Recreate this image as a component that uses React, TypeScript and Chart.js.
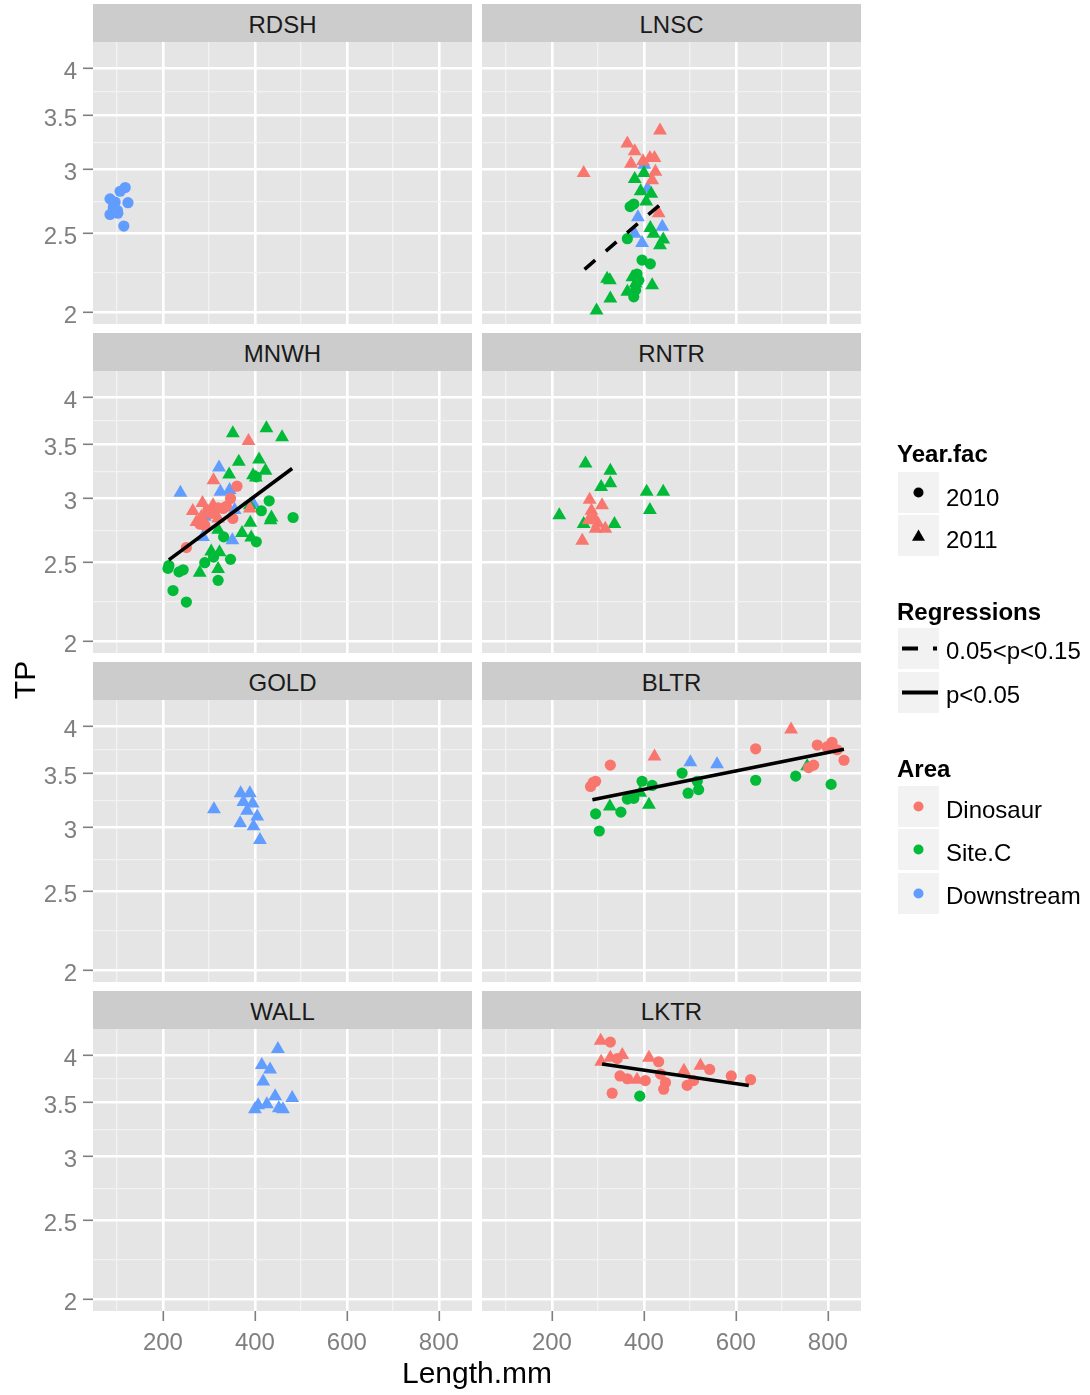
import React, { useEffect, useRef } from 'react';
import { Chart, registerables } from 'chart.js';

Chart.register(...registerables);

const FONT = '"Liberation Sans", Arial, Helvetica, sans-serif';

// ---------- axes ----------
const X_LIMITS = [48, 872];
const X_MAJOR = [200, 400, 600, 800];
const X_MINOR = [100, 300, 500, 700];
const Y_LIMITS = [1.935, 4.307];
const Y_MAJOR = [2, 2.5, 3, 3.5, 4];
const Y_MINOR = [2.236, 2.739, 3.24, 3.742];

// ---------- legend / categories ----------
const AREAS = ['Dinosaur', 'Site.C', 'Downstream'];
const AREA_COLORS = ['#F8766D', '#00BA38', '#619CFF'];
const YEARS = ['2010', '2011'];
const REG_LABELS = ['0.05<p<0.15', 'p<0.05'];
const PANEL_NAMES = ['RDSH', 'LNSC', 'MNWH', 'RNTR', 'GOLD', 'BLTR', 'WALL', 'LKTR'];

// ---------- data ----------
const RDSH_DS_2010_LEN = [118, 107, 85, 96, 124, 92, 102, 85, 115, 93, 101];
const RDSH_DS_2010_TP = [2.85, 2.82, 2.76, 2.735, 2.73, 2.69, 2.65, 2.64, 2.555, 2.71, 2.67];

const LNSC_DIN_2011_LEN = [435, 364, 380, 269, 372, 398, 413, 423, 418, 425, 432];
const LNSC_DIN_2011_TP = [3.35, 3.23, 3.16, 2.97, 3.05, 3.07, 3.1, 3.1, 2.91, 2.98, 2.65];
const LNSC_DS_2011_LEN = [401, 408, 387, 440, 380, 396];
const LNSC_DS_2011_TP = [3.04, 2.84, 2.62, 2.55, 2.5, 2.435];
const LNSC_SC_2011_LEN = [400, 380, 393, 416, 405, 414, 421, 442, 435, 320, 326, 375, 382, 418, 364, 327, 297];
const LNSC_SC_2011_TP = [2.97, 2.92, 2.82, 2.8, 2.74, 2.54, 2.5, 2.46, 2.42, 2.2, 2.19, 2.21, 2.17, 2.16, 2.12, 2.08, 2.01];
const LNSC_SC_2010_LEN = [370, 378, 364, 396, 414, 385, 389, 382, 378];
const LNSC_SC_2010_TP = [2.7, 2.72, 2.465, 2.32, 2.295, 2.23, 2.19, 2.13, 2.09];
const LNSC_REG_LEN = [271, 440];
const LNSC_REG_TP = [2.26, 2.73];

const MNWH_SC_2011_LEN = [352, 425, 459, 365, 409, 344, 396, 423, 402, 389, 436, 434, 390, 372, 392, 320, 305, 323, 280, 320];
const MNWH_SC_2011_TP = [3.61, 3.66, 3.57, 3.33, 3.35, 3.21, 3.205, 3.245, 3.184, 2.943, 2.842, 2.82, 2.8, 2.72, 2.686, 2.746, 2.58, 2.576, 2.43, 2.456];
const MNWH_DS_2011_LEN = [238, 322, 325, 345, 356, 396, 291, 287, 351];
const MNWH_DS_2011_TP = [3.05, 3.276, 3.058, 3.072, 2.903, 2.958, 2.848, 2.69, 2.665];
const MNWH_DIN_2011_LEN = [386, 310, 286, 265, 309, 284, 273, 320, 389];
const MNWH_DIN_2011_TP = [3.53, 3.16, 2.962, 2.895, 2.943, 2.848, 2.806, 2.834, 2.916];
const MNWH_DIN_2010_LEN = [361, 347, 320, 331, 298, 305, 280, 291, 352, 251, 338];
const MNWH_DIN_2010_TP = [3.106, 3.0, 2.921, 2.916, 2.903, 2.875, 2.79, 2.781, 2.834, 2.61, 2.934];
const MNWH_SC_2010_LEN = [403, 431, 414, 483, 332, 403, 347, 291, 310, 244, 235, 213, 211, 320, 222, 251];
const MNWH_SC_2010_TP = [3.19, 2.98, 2.897, 2.842, 2.69, 2.653, 2.524, 2.5, 2.54, 2.45, 2.436, 2.48, 2.46, 2.378, 2.31, 2.236];
const MNWH_REG_LEN = [213, 481];
const MNWH_REG_TP = [2.52, 3.266];

const RNTR_SC_2011_LEN = [273, 327, 327, 307, 406, 442, 413, 216, 269, 336];
const RNTR_SC_2011_TP = [3.313, 3.245, 3.133, 3.1, 3.058, 3.058, 2.903, 2.861, 2.79, 2.79];
const RNTR_DIN_2011_LEN = [282, 309, 286, 291, 280, 300, 295, 316, 266];
const RNTR_DIN_2011_TP = [2.99, 2.943, 2.897, 2.842, 2.82, 2.795, 2.753, 2.753, 2.66];

const GOLD_DS_2011_LEN = [311, 369, 389, 375, 395, 383, 405, 368, 397, 411];
const GOLD_DS_2011_TP = [3.16, 3.306, 3.306, 3.225, 3.212, 3.145, 3.095, 3.037, 3.01, 2.895];

const BLTR_DIN_2010_LEN = [290, 284, 295, 327, 643, 777, 809, 798, 820, 835, 758, 769];
const BLTR_DIN_2010_TP = [3.41, 3.37, 3.42, 3.58, 3.75, 3.79, 3.82, 3.77, 3.74, 3.63, 3.555, 3.58];
const BLTR_DIN_2011_LEN = [423, 720];
const BLTR_DIN_2011_TP = [3.67, 3.96];
const BLTR_DS_2011_LEN = [501, 559];
const BLTR_DS_2011_TP = [3.61, 3.59];
const BLTR_SC_2011_LEN = [326, 411, 755, 392];
const BLTR_SC_2011_TP = [3.184, 3.2, 3.57, 3.31];
const BLTR_SC_2010_LEN = [295, 303, 350, 364, 378, 396, 418, 483, 496, 516, 519, 643, 730, 807];
const BLTR_SC_2010_TP = [3.118, 2.97, 3.133, 3.252, 3.258, 3.42, 3.38, 3.5, 3.306, 3.42, 3.34, 3.43, 3.47, 3.39];
const BLTR_REG_LEN = [288, 835];
const BLTR_REG_TP = [3.245, 3.745];

const WALL_DS_2011_LEN = [450, 415, 433, 418, 444, 407, 426, 452, 481, 461, 400];
const WALL_DS_2011_TP = [4.07, 3.89, 3.84, 3.71, 3.56, 3.47, 3.48, 3.44, 3.54, 3.43, 3.43];

const LKTR_DIN_2011_LEN = [306, 307, 327, 353, 411, 487, 523, 385];
const LKTR_DIN_2011_TP = [4.166, 3.925, 3.97, 4.0, 3.97, 3.825, 3.88, 3.73];
const LKTR_DIN_2010_LEN = [327, 342, 348, 364, 432, 403, 436, 447, 443, 494, 508, 543, 590, 632, 331];
const LKTR_DIN_2010_TP = [4.15, 3.96, 3.77, 3.74, 3.925, 3.72, 3.79, 3.7, 3.63, 3.67, 3.72, 3.84, 3.77, 3.73, 3.59];
const LKTR_SC_2010_LEN = [391];
const LKTR_SC_2010_TP = [3.56];
const LKTR_REG_LEN = [309, 628];
const LKTR_REG_TP = [3.9, 3.67];

type Series = { panel: string; area: number; year: number; len: number[]; tp: number[] };
type Reg = { panel: string; kind: number; len: number[]; tp: number[] };

const SERIES: Series[] = [
  { panel: 'RDSH', area: 2, year: 0, len: RDSH_DS_2010_LEN, tp: RDSH_DS_2010_TP },
  { panel: 'LNSC', area: 0, year: 1, len: LNSC_DIN_2011_LEN, tp: LNSC_DIN_2011_TP },
  { panel: 'LNSC', area: 2, year: 1, len: LNSC_DS_2011_LEN, tp: LNSC_DS_2011_TP },
  { panel: 'LNSC', area: 1, year: 1, len: LNSC_SC_2011_LEN, tp: LNSC_SC_2011_TP },
  { panel: 'LNSC', area: 1, year: 0, len: LNSC_SC_2010_LEN, tp: LNSC_SC_2010_TP },
  { panel: 'MNWH', area: 1, year: 1, len: MNWH_SC_2011_LEN, tp: MNWH_SC_2011_TP },
  { panel: 'MNWH', area: 2, year: 1, len: MNWH_DS_2011_LEN, tp: MNWH_DS_2011_TP },
  { panel: 'MNWH', area: 0, year: 1, len: MNWH_DIN_2011_LEN, tp: MNWH_DIN_2011_TP },
  { panel: 'MNWH', area: 0, year: 0, len: MNWH_DIN_2010_LEN, tp: MNWH_DIN_2010_TP },
  { panel: 'MNWH', area: 1, year: 0, len: MNWH_SC_2010_LEN, tp: MNWH_SC_2010_TP },
  { panel: 'RNTR', area: 1, year: 1, len: RNTR_SC_2011_LEN, tp: RNTR_SC_2011_TP },
  { panel: 'RNTR', area: 0, year: 1, len: RNTR_DIN_2011_LEN, tp: RNTR_DIN_2011_TP },
  { panel: 'GOLD', area: 2, year: 1, len: GOLD_DS_2011_LEN, tp: GOLD_DS_2011_TP },
  { panel: 'BLTR', area: 0, year: 0, len: BLTR_DIN_2010_LEN, tp: BLTR_DIN_2010_TP },
  { panel: 'BLTR', area: 0, year: 1, len: BLTR_DIN_2011_LEN, tp: BLTR_DIN_2011_TP },
  { panel: 'BLTR', area: 2, year: 1, len: BLTR_DS_2011_LEN, tp: BLTR_DS_2011_TP },
  { panel: 'BLTR', area: 1, year: 1, len: BLTR_SC_2011_LEN, tp: BLTR_SC_2011_TP },
  { panel: 'BLTR', area: 1, year: 0, len: BLTR_SC_2010_LEN, tp: BLTR_SC_2010_TP },
  { panel: 'WALL', area: 2, year: 1, len: WALL_DS_2011_LEN, tp: WALL_DS_2011_TP },
  { panel: 'LKTR', area: 0, year: 1, len: LKTR_DIN_2011_LEN, tp: LKTR_DIN_2011_TP },
  { panel: 'LKTR', area: 0, year: 0, len: LKTR_DIN_2010_LEN, tp: LKTR_DIN_2010_TP },
  { panel: 'LKTR', area: 1, year: 0, len: LKTR_SC_2010_LEN, tp: LKTR_SC_2010_TP },
];

const REGS: Reg[] = [
  { panel: 'LNSC', kind: 0, len: LNSC_REG_LEN, tp: LNSC_REG_TP },
  { panel: 'MNWH', kind: 1, len: MNWH_REG_LEN, tp: MNWH_REG_TP },
  { panel: 'BLTR', kind: 1, len: BLTR_REG_LEN, tp: BLTR_REG_TP },
  { panel: 'LKTR', kind: 1, len: LKTR_REG_LEN, tp: LKTR_REG_TP },
];

// ---------- layout ----------
const COL_X = [93, 482];
const ROW_Y = [42, 371, 700, 1029];
const PW = 379;
const PH = 282;
const STRIP_H = 38;
const Y_AXIS_W = 93;
const X_AXIS_H = 50;

const bgPlugin = {
  id: 'panelBg',
  beforeDraw(chart: any) {
    const { ctx, chartArea: a } = chart;
    ctx.save();
    ctx.fillStyle = '#E5E5E5';
    ctx.fillRect(a.left, a.top, a.right - a.left, a.bottom - a.top);
    ctx.restore();
  },
};

const isMaj = (list: number[], c: any) => !!(c && c.tick && list.includes(c.tick.value));

function gridFor(major: number[], showTicks: boolean) {
  return {
    color: (c: any) => (isMaj(major, c) ? '#FFFFFF' : '#F2F2F2'),
    lineWidth: (c: any) => (isMaj(major, c) ? 2.6 : 1.3),
    drawTicks: showTicks,
    tickLength: 10,
    tickColor: (c: any) => (isMaj(major, c) ? '#7F7F7F' : 'rgba(0,0,0,0)'),
    tickWidth: 1.6,
  };
}

function Panel({ name, col, row }: { name: string; col: number; row: number }) {
  const ref = useRef<HTMLCanvasElement>(null);
  const showY = col === 0;
  const showX = row === 3;
  const left = showY ? 0 : COL_X[1];
  const width = showY ? Y_AXIS_W + PW : PW;
  const top = ROW_Y[row];
  const height = showX ? PH + X_AXIS_H : PH;

  useEffect(() => {
    if (!ref.current) return;
    const datasets: any[] = [];
    const reg = REGS.find((r) => r.panel === name);
    if (reg) {
      datasets.push({
        data: reg.len.map((x, i) => ({ x, y: reg.tp[i] })),
        showLine: true,
        borderColor: '#000000',
        borderWidth: 3.6,
        borderDash: reg.kind === 0 ? [14, 14] : [],
        pointRadius: 0,
        pointHoverRadius: 0,
        fill: false,
        tension: 0,
      });
    }
    for (const a of [0, 1, 2]) {
      for (const yr of [0, 1]) {
        SERIES.filter((s) => s.panel === name && s.area === a && s.year === yr).forEach((s) => {
          datasets.push({
            data: s.len.map((x, i) => ({ x, y: s.tp[i] })),
            showLine: false,
            pointStyle: s.year === 0 ? 'circle' : 'triangle',
            pointRadius: s.year === 0 ? 5.6 : 8,
            pointHoverRadius: s.year === 0 ? 5.6 : 8,
            pointBackgroundColor: AREA_COLORS[s.area],
            pointBorderColor: AREA_COLORS[s.area],
            pointBorderWidth: 0,
          });
        });
      }
    }
    const chart = new Chart(ref.current, {
      type: 'scatter',
      data: { datasets },
      options: {
        animation: false,
        responsive: false,
        devicePixelRatio: 1,
        events: [],
        layout: { padding: 0, autoPadding: false },
        plugins: { legend: { display: false }, tooltip: { enabled: false } },
        scales: {
          x: {
            type: 'linear',
            position: 'bottom',
            min: X_LIMITS[0],
            max: X_LIMITS[1],
            bounds: 'data',
            afterBuildTicks: (s: any) => {
              s.ticks = [...X_MINOR, ...X_MAJOR].sort((p, q) => p - q).map((v) => ({ value: v }));
            },
            afterFit: (s: any) => {
              s.height = showX ? X_AXIS_H : 0;
              s.paddingLeft = 0;
              s.paddingRight = 0;
            },
            ticks: {
              display: showX,
              autoSkip: false,
              maxRotation: 0,
              minRotation: 0,
              padding: 8,
              color: '#7F7F7F',
              font: { size: 24, family: FONT },
              callback: (v: any) => (X_MAJOR.includes(v) ? String(v) : ''),
            },
            grid: gridFor(X_MAJOR, showX),
            border: { display: false },
          },
          y: {
            type: 'logarithmic',
            position: 'left',
            min: Y_LIMITS[0],
            max: Y_LIMITS[1],
            bounds: 'data',
            afterBuildTicks: (s: any) => {
              s.ticks = [...Y_MINOR, ...Y_MAJOR].sort((p, q) => p - q).map((v) => ({ value: v, major: false }));
            },
            afterFit: (s: any) => {
              s.width = showY ? Y_AXIS_W : 0;
              s.paddingTop = 0;
              s.paddingBottom = 0;
            },
            ticks: {
              display: showY,
              autoSkip: false,
              padding: 6,
              labelOffset: 4,
              color: '#7F7F7F',
              font: { size: 24, family: FONT },
              major: { enabled: false },
              callback: (v: any) => (Y_MAJOR.includes(v) ? String(v) : ''),
            },
            grid: gridFor(Y_MAJOR, showY),
            border: { display: false },
          },
        },
      } as any,
      plugins: [bgPlugin],
    });
    return () => chart.destroy();
  }, []);

  return (
    <canvas
      ref={ref}
      width={width}
      height={height}
      style={{ position: 'absolute', left, top, width, height, display: 'block' }}
    />
  );
}

function Strip({ name, col, row }: { name: string; col: number; row: number }) {
  return (
    <div
      style={{
        position: 'absolute',
        left: COL_X[col],
        top: ROW_Y[row] - STRIP_H,
        width: PW,
        height: STRIP_H,
        background: '#CCCCCC',
        overflow: 'hidden',
      }}
    >
      <div
        style={{
          position: 'absolute',
          left: 0,
          top: 2,
          width: PW,
          height: STRIP_H,
          lineHeight: STRIP_H + 'px',
          textAlign: 'center',
          fontSize: 24,
          color: '#1A1A1A',
        }}
      >
        {name}
      </div>
    </div>
  );
}

const KEY_X = 898;
const KEY_W = 41;
const YEAR_KEYS = [472, 515];
const REG_KEYS = [628, 672];
const AREA_KEYS = [786, 829, 873];

function tri(cx: number, cy: number, r: number) {
  const h = r * 0.866;
  return `${cx},${cy - r} ${cx + h},${cy + r / 2} ${cx - h},${cy + r / 2}`;
}

function Legend() {
  const cx = KEY_X + KEY_W / 2;
  const label = (text: string, cy: number, bold = false) => (
    <div
      key={text}
      style={{
        position: 'absolute',
        left: bold ? 897 : 946,
        top: cy - 14,
        height: 28,
        lineHeight: '28px',
        fontSize: 24,
        fontWeight: bold ? 'bold' : 'normal',
        color: '#000000',
        whiteSpace: 'nowrap',
      }}
    >
      {text}
    </div>
  );
  return (
    <>
      <svg
        width={1090}
        height={1395}
        style={{ position: 'absolute', left: 0, top: 0, pointerEvents: 'none' }}
      >
        {[...YEAR_KEYS, ...REG_KEYS, ...AREA_KEYS].map((t, i) => (
          <rect key={'k' + i} x={KEY_X} y={t} width={KEY_W} height={KEY_W} fill="#F2F2F2" />
        ))}
        <circle cx={cx} cy={YEAR_KEYS[0] + 20.5} r={5} fill="#000000" />
        <polygon points={tri(cx, YEAR_KEYS[1] + 22, 7.5)} fill="#000000" />
        <line x1={902} x2={937} y1={REG_KEYS[0] + 20.5} y2={REG_KEYS[0] + 20.5} stroke="#000" strokeWidth={4} strokeDasharray="16 15" />
        <line x1={902} x2={938} y1={REG_KEYS[1] + 20.5} y2={REG_KEYS[1] + 20.5} stroke="#000" strokeWidth={4} />
        {AREA_KEYS.map((t, i) => (
          <circle key={'a' + i} cx={cx} cy={t + 20.5} r={5} fill={AREA_COLORS[i]} />
        ))}
      </svg>
      {label('Year.fac', 453.5, true)}
      {label(YEARS[0], 497.5)}
      {label(YEARS[1], 540)}
      {label('Regressions', 611.5, true)}
      {label(REG_LABELS[0], 651)}
      {label(REG_LABELS[1], 695)}
      {label('Area', 768.5, true)}
      {label(AREAS[0], 810)}
      {label(AREAS[1], 853)}
      {label(AREAS[2], 896)}
    </>
  );
}

export default function App() {
  Chart.defaults.font.family = FONT;
  return (
    <div
      style={{
        position: 'absolute',
        left: 0,
        top: 0,
        width: 1090,
        height: 1395,
        background: '#FFFFFF',
        overflow: 'hidden',
        fontFamily: FONT,
      }}
    >
      {PANEL_NAMES.map((n, i) => (
        <Strip key={'s' + n} name={n} col={i % 2} row={Math.floor(i / 2)} />
      ))}
      {PANEL_NAMES.map((n, i) => (
        <Panel key={'p' + n} name={n} col={i % 2} row={Math.floor(i / 2)} />
      ))}
      <div
        style={{
          position: 'absolute',
          left: 25 - 40,
          top: 680 - 18,
          width: 80,
          height: 36,
          lineHeight: '36px',
          textAlign: 'center',
          fontSize: 30,
          color: '#000000',
          transform: 'rotate(-90deg)',
        }}
      >
        TP
      </div>
      <div
        style={{
          position: 'absolute',
          left: 377,
          top: 1355,
          width: 200,
          height: 36,
          lineHeight: '36px',
          textAlign: 'center',
          fontSize: 30,
          color: '#000000',
        }}
      >
        Length.mm
      </div>
      <Legend />
    </div>
  );
}
